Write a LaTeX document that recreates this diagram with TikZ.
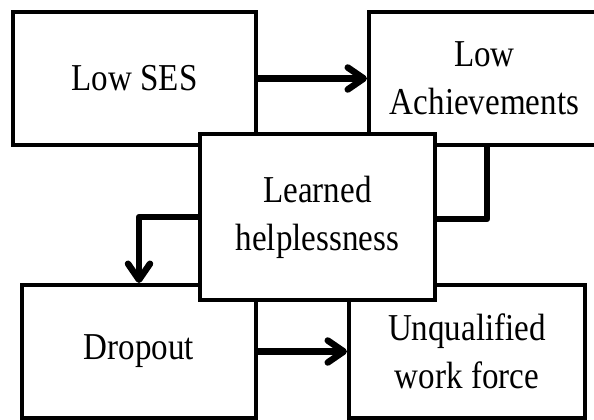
\documentclass[tikz,border=0pt]{standalone}
\usepackage{fontspec}
\setmainfont{Liberation Serif}[FakeStretch=0.87]
\usetikzlibrary{arrows.meta}
\begin{document}
\begin{tikzpicture} [x=1pt,y=-1pt,font=\fontsize{38}{48}\selectfont,
		box/.style={draw,line width=4pt,fill=white,align=center,inner sep=0pt},
		link/.style={line width=6.5pt,line join=round},
		tip/.style={-{Straight Barb[length=16pt,width=22pt,round]}}]
		\useasboundingbox (0,0) rectangle (594,420);
		\node [box,minimum width=243pt,minimum height=133pt] (ses) at (134.5,78.5) {Low SES};
		\node [box,minimum width=231pt,minimum height=133pt] (ach) at (484.5,78.5) {Low\\Achievements};
		\node [box,minimum width=234pt,minimum height=133pt] (drop) at (139,351.5) {Dropout};
		\node [box,minimum width=236pt,minimum height=133pt] (unq) at (467,351.5) {Unqualified\\work force};
		\node [box,minimum width=235pt,minimum height=166pt] (learn) at (317.5,217) {Learned\\helplessness};
		\draw [link,tip] (ses) -- (ach);
		\draw [link] ([xshift=2.5pt]ach.south) |- ([yshift=-2pt]learn.east);
		\draw [link,tip] (learn.west) -| (drop.north);
		\draw [link,tip] (drop) -- (unq);
	\end{tikzpicture}
\end{document}
